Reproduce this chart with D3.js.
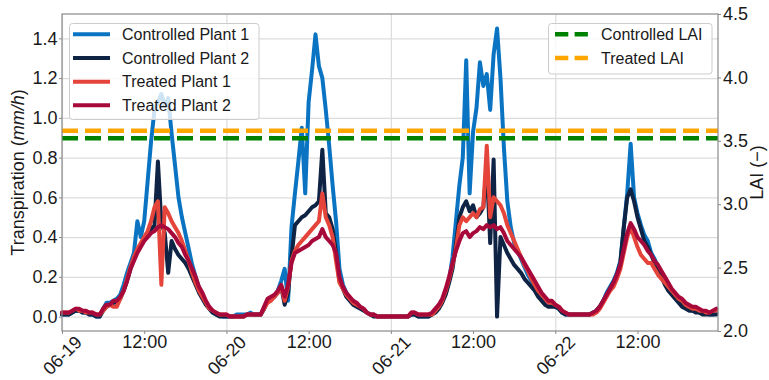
<!DOCTYPE html>
<html>
<head>
<meta charset="utf-8">
<script src="https://cdn.jsdelivr.net/npm/d3@7"></script>
<style>
  body { margin: 0; background: #fff; }
  svg { display: block; font-family: "Liberation Sans", Arial, sans-serif; }
</style>
</head>
<body>
<svg id="chart" width="769" height="380"></svg>
<script>
// half-hourly samples, 06-19 00:00 -> 06-22 23:30 (192 per series)
var seriesNames = ["Controlled Plant 1", "Controlled Plant 2", "Treated Plant 1", "Treated Plant 2"];
var seriesColors = ["#0a74c2", "#0f2344", "#e5443a", "#a8093b"];

var cp1 = [
  0.01,0.01,0.01,0.02,0.03,0.03,0.02,0.02,0.01,0.01,0.00,0.00,
  0.04,0.07,0.07,0.08,0.09,0.11,0.16,0.22,0.27,0.32,0.48,0.40,
  0.48,0.68,0.88,1.04,1.08,1.12,1.06,1.10,0.92,0.76,0.60,0.50,
  0.42,0.34,0.26,0.20,0.14,0.10,0.07,0.04,0.02,0.01,0.01,0.00,
  0.00,0.00,0.00,0.01,0.01,0.01,0.01,0.02,0.01,0.01,0.01,0.04,
  0.08,0.09,0.10,0.13,0.18,0.24,0.08,0.45,0.62,0.78,0.95,0.62,
  1.08,1.24,1.42,1.26,1.20,1.04,0.86,0.66,0.48,0.24,0.16,0.12,
  0.09,0.08,0.06,0.05,0.04,0.02,0.01,0.01,0.00,0.00,0.00,0.00,
  0.00,0.00,0.00,0.00,0.00,0.00,0.01,0.01,0.00,0.00,0.00,0.00,
  0.01,0.03,0.05,0.08,0.12,0.18,0.30,0.48,0.66,0.80,1.29,0.62,
  0.93,1.05,1.28,1.16,1.22,1.04,1.32,1.45,1.20,0.85,0.58,0.45,
  0.37,0.33,0.29,0.25,0.21,0.18,0.15,0.12,0.10,0.08,0.06,0.06,
  0.05,0.04,0.02,0.01,0.01,0.01,0.01,0.01,0.01,0.01,0.01,0.02,
  0.03,0.05,0.08,0.12,0.15,0.18,0.22,0.28,0.45,0.62,0.87,0.60,
  0.52,0.46,0.41,0.38,0.32,0.29,0.25,0.21,0.18,0.15,0.12,0.10,
  0.08,0.07,0.05,0.04,0.03,0.03,0.02,0.02,0.02,0.01,0.01,0.02
];
var cp2 = [
  0.01,0.01,0.01,0.02,0.03,0.03,0.02,0.02,0.01,0.01,0.00,0.00,
  0.03,0.05,0.06,0.07,0.07,0.09,0.13,0.18,0.24,0.29,0.33,0.36,
  0.39,0.42,0.44,0.46,0.78,0.47,0.42,0.22,0.38,0.34,0.31,0.29,
  0.27,0.24,0.20,0.16,0.12,0.09,0.06,0.04,0.02,0.01,0.00,0.00,
  0.00,0.00,0.00,0.00,0.00,0.00,0.01,0.01,0.01,0.01,0.01,0.04,
  0.08,0.09,0.10,0.12,0.15,0.06,0.12,0.30,0.46,0.48,0.50,0.51,
  0.53,0.55,0.56,0.58,0.84,0.52,0.50,0.44,0.32,0.18,0.14,0.10,
  0.08,0.06,0.05,0.04,0.03,0.02,0.01,0.00,0.00,0.00,0.00,0.00,
  0.00,0.00,0.00,0.00,0.00,0.00,0.01,0.01,0.00,0.00,0.00,0.00,
  0.01,0.02,0.04,0.07,0.11,0.17,0.24,0.36,0.50,0.55,0.58,0.53,
  0.56,0.50,0.52,0.55,0.76,0.37,0.79,0.00,0.40,0.36,0.32,0.29,
  0.26,0.24,0.22,0.19,0.17,0.15,0.13,0.10,0.08,0.06,0.05,0.05,
  0.05,0.04,0.02,0.01,0.01,0.01,0.01,0.01,0.01,0.01,0.01,0.02,
  0.03,0.05,0.08,0.11,0.14,0.17,0.21,0.27,0.45,0.60,0.64,0.58,
  0.50,0.44,0.38,0.35,0.31,0.27,0.24,0.20,0.16,0.13,0.11,0.09,
  0.07,0.05,0.04,0.03,0.03,0.02,0.02,0.01,0.01,0.01,0.01,0.01
];
var tp1 = [
  0.02,0.02,0.02,0.03,0.04,0.03,0.03,0.02,0.02,0.02,0.01,0.01,
  0.03,0.05,0.06,0.05,0.05,0.09,0.13,0.19,0.25,0.30,0.34,0.37,
  0.40,0.43,0.48,0.55,0.58,0.16,0.55,0.52,0.48,0.45,0.42,0.38,
  0.33,0.28,0.22,0.17,0.13,0.10,0.07,0.04,0.03,0.02,0.01,0.01,
  0.01,0.00,0.00,0.00,0.00,0.00,0.01,0.01,0.01,0.01,0.01,0.04,
  0.07,0.08,0.10,0.12,0.15,0.08,0.15,0.28,0.33,0.36,0.38,0.40,
  0.42,0.44,0.46,0.48,0.62,0.50,0.46,0.40,0.28,0.17,0.14,0.11,
  0.09,0.07,0.06,0.05,0.04,0.02,0.01,0.01,0.00,0.00,0.00,0.00,
  0.00,0.00,0.00,0.00,0.00,0.00,0.02,0.02,0.01,0.01,0.01,0.01,
  0.01,0.03,0.05,0.08,0.13,0.19,0.26,0.34,0.46,0.50,0.48,0.50,
  0.52,0.50,0.54,0.55,0.86,0.50,0.60,0.58,0.56,0.52,0.46,0.42,
  0.38,0.34,0.30,0.26,0.23,0.19,0.16,0.13,0.11,0.09,0.07,0.07,
  0.06,0.05,0.03,0.02,0.01,0.01,0.01,0.01,0.01,0.01,0.01,0.01,
  0.02,0.04,0.07,0.10,0.13,0.15,0.19,0.24,0.32,0.40,0.45,0.40,
  0.35,0.31,0.29,0.27,0.27,0.24,0.21,0.19,0.17,0.15,0.13,0.11,
  0.09,0.08,0.06,0.05,0.04,0.04,0.03,0.03,0.02,0.02,0.03,0.03
];
var tp2 = [
  0.02,0.02,0.02,0.03,0.04,0.04,0.03,0.03,0.02,0.02,0.01,0.01,
  0.04,0.06,0.06,0.08,0.08,0.10,0.13,0.18,0.24,0.28,0.32,0.35,
  0.38,0.40,0.42,0.43,0.45,0.46,0.45,0.44,0.42,0.40,0.37,0.35,
  0.31,0.28,0.24,0.20,0.15,0.12,0.08,0.05,0.03,0.02,0.01,0.01,
  0.01,0.00,0.00,0.00,0.00,0.00,0.01,0.01,0.01,0.01,0.01,0.05,
  0.09,0.10,0.11,0.13,0.16,0.10,0.16,0.27,0.32,0.33,0.34,0.35,
  0.36,0.38,0.39,0.40,0.44,0.40,0.38,0.36,0.32,0.20,0.15,0.12,
  0.10,0.08,0.07,0.05,0.04,0.02,0.01,0.01,0.00,0.00,0.00,0.00,
  0.00,0.00,0.00,0.00,0.00,0.00,0.02,0.02,0.01,0.01,0.01,0.01,
  0.02,0.04,0.06,0.09,0.14,0.20,0.27,0.33,0.38,0.42,0.43,0.40,
  0.42,0.43,0.45,0.44,0.46,0.45,0.46,0.44,0.45,0.42,0.38,0.36,
  0.34,0.32,0.30,0.27,0.24,0.21,0.18,0.15,0.12,0.10,0.08,0.08,
  0.06,0.05,0.03,0.02,0.01,0.01,0.01,0.01,0.01,0.01,0.01,0.02,
  0.03,0.05,0.08,0.11,0.14,0.17,0.21,0.26,0.34,0.42,0.47,0.44,
  0.40,0.38,0.36,0.33,0.31,0.28,0.26,0.23,0.20,0.17,0.14,0.12,
  0.10,0.09,0.07,0.06,0.05,0.05,0.04,0.03,0.03,0.02,0.03,0.04
];

var laiNames = ["Controlled LAI", "Treated LAI"];
var laiValues = [3.52, 3.58];
var laiColors = ["#008000", "#ffa500"];

var yTicks = [0.0, 0.2, 0.4, 0.6, 0.8, 1.0, 1.2, 1.4];
var y2Ticks = [2.0, 2.5, 3.0, 3.5, 4.0, 4.5];

var start = new Date(2020, 5, 19, 0, 0);
var times = d3.range(192).map(function(i){ return d3.timeMinute.offset(start, i * 30); });
var dayTicks = [0, 1, 2, 3].map(function(d){ return d3.timeDay.offset(start, d); });
var noonTicks = dayTicks.map(function(d){ return d3.timeHour.offset(d, 12); });

var pLeft = 62, pRight = 718, pTop = 14, pBottom = 331;
var svg = d3.select("#chart");

var x = d3.scaleTime()
    .domain([start, d3.timeMinute.offset(start, 95 * 60 + 45)])
    .range([pLeft, pRight]);
var y = d3.scaleLinear().domain([-0.0725, 1.5225]).range([pBottom, pTop]);
var y2 = d3.scaleLinear().domain([2.0, 4.5]).range([pBottom, pTop]);

// grid
svg.append("g")
    .attr("transform", "translate(" + pLeft + ",0)")
    .call(d3.axisLeft(y).tickValues(yTicks).tickSize(-(pRight - pLeft)).tickFormat(""))
    .call(function(g){ g.select(".domain").remove(); })
    .selectAll("line").attr("stroke", "#dcdcdc").attr("stroke-width", 1.2);
svg.append("g")
    .attr("transform", "translate(0," + pBottom + ")")
    .call(d3.axisBottom(x).tickValues(dayTicks).tickSize(-(pBottom - pTop)).tickFormat(""))
    .call(function(g){ g.select(".domain").remove(); })
    .selectAll("line").attr("stroke", "#dcdcdc").attr("stroke-width", 1.2);

// transpiration lines
var line = d3.line()
    .x(function(d, i){ return x(times[i]); })
    .y(function(d){ return y(d); });

[cp1, cp2, tp1, tp2].forEach(function(s, k){
    svg.append("path")
        .attr("d", line(s))
        .attr("fill", "none")
        .attr("stroke", seriesColors[k])
        .attr("stroke-width", 4)
        .attr("stroke-linejoin", "round")
        .attr("stroke-linecap", "round");
});

// legend for plants
var leg1 = svg.append("g");
leg1.append("rect")
    .attr("x", 69.5).attr("y", 23.5).attr("width", 189.5).attr("height", 96)
    .attr("rx", 3).attr("fill", "#fff").attr("fill-opacity", 0.8)
    .attr("stroke", "#cccccc");
seriesNames.forEach(function(n, k){
    var ry = 34.3 + k * 23.67;
    leg1.append("line").attr("x1", 73).attr("x2", 110).attr("y1", ry).attr("y2", ry)
        .attr("stroke", seriesColors[k]).attr("stroke-width", 4);
    leg1.append("text").attr("x", 122).attr("y", ry + 5.8)
        .attr("font-size", 16).attr("fill", "#1a1a1a").text(n);
});

// LAI lines
laiValues.forEach(function(v, k){
    svg.append("line")
        .attr("x1", pLeft).attr("x2", pRight)
        .attr("y1", y2(v)).attr("y2", y2(v))
        .attr("stroke", laiColors[k]).attr("stroke-width", 4.5)
        .attr("stroke-dasharray", "16,7");
});

var leg2 = svg.append("g");
leg2.append("rect")
    .attr("x", 548.5).attr("y", 23.5).attr("width", 163.5).attr("height", 50.5)
    .attr("rx", 3).attr("fill", "#fff").attr("fill-opacity", 0.8)
    .attr("stroke", "#cccccc");
laiNames.forEach(function(n, k){
    var ry = 34.3 + k * 23.67;
    leg2.append("line").attr("x1", 555).attr("x2", 588).attr("y1", ry).attr("y2", ry)
        .attr("stroke", laiColors[k]).attr("stroke-width", 4.5)
        .attr("stroke-dasharray", "13.3,6.3");
    leg2.append("text").attr("x", 601).attr("y", ry + 5.8)
        .attr("font-size", 16).attr("fill", "#1a1a1a").text(n);
});

// frame
svg.append("rect")
    .attr("x", pLeft).attr("y", pTop).attr("width", pRight - pLeft).attr("height", pBottom - pTop)
    .attr("fill", "none").attr("stroke", "#8a8a8a").attr("stroke-width", 1.2);

function styleAxis(g){
    g.select(".domain").remove();
    g.selectAll("line").attr("stroke", "#8a8a8a");
    g.selectAll("text").attr("font-size", 18).attr("fill", "#1a1a1a")
        .attr("font-family", "Liberation Sans, Arial, sans-serif");
}

svg.append("g")
    .attr("transform", "translate(" + pLeft + ",0)")
    .call(d3.axisLeft(y).tickValues(yTicks).tickSize(3).tickPadding(1.5).tickFormat(d3.format(".1f")))
    .call(styleAxis);

svg.append("g")
    .attr("transform", "translate(" + pRight + ",0)")
    .call(d3.axisRight(y2).tickValues(y2Ticks).tickSize(3).tickPadding(2).tickFormat(d3.format(".1f")))
    .call(styleAxis);

svg.append("g")
    .attr("transform", "translate(0," + pBottom + ")")
    .call(d3.axisBottom(x).tickValues(noonTicks).tickSize(3).tickPadding(1.5).tickFormat(d3.timeFormat("%H:%M")))
    .call(styleAxis);

svg.append("g")
    .attr("transform", "translate(0," + pBottom + ")")
    .call(d3.axisBottom(x).tickValues(dayTicks).tickSize(3).tickFormat(d3.timeFormat("%m-%d")))
    .call(styleAxis)
    .selectAll("text")
    .attr("y", null).attr("dy", null)
    .attr("text-anchor", "middle")
    .attr("dominant-baseline", "central")
    .attr("transform", "translate(0,24.5) rotate(-45)");

// axis titles
var yl = svg.append("text")
    .attr("transform", "translate(23.5," + ((pTop + pBottom) / 2) + ") rotate(-90)")
    .attr("text-anchor", "middle").attr("font-size", 18).attr("fill", "#1a1a1a");
yl.append("tspan").text("Transpiration (");
yl.append("tspan").attr("font-style", "italic").text("mm/h");
yl.append("tspan").text(")");

svg.append("text")
    .attr("transform", "translate(763," + ((pTop + pBottom) / 2) + ") rotate(-90)")
    .attr("text-anchor", "middle").attr("font-size", 18).attr("fill", "#1a1a1a")
    .text("LAI (\u2212)");
</script>
</body>
</html>
